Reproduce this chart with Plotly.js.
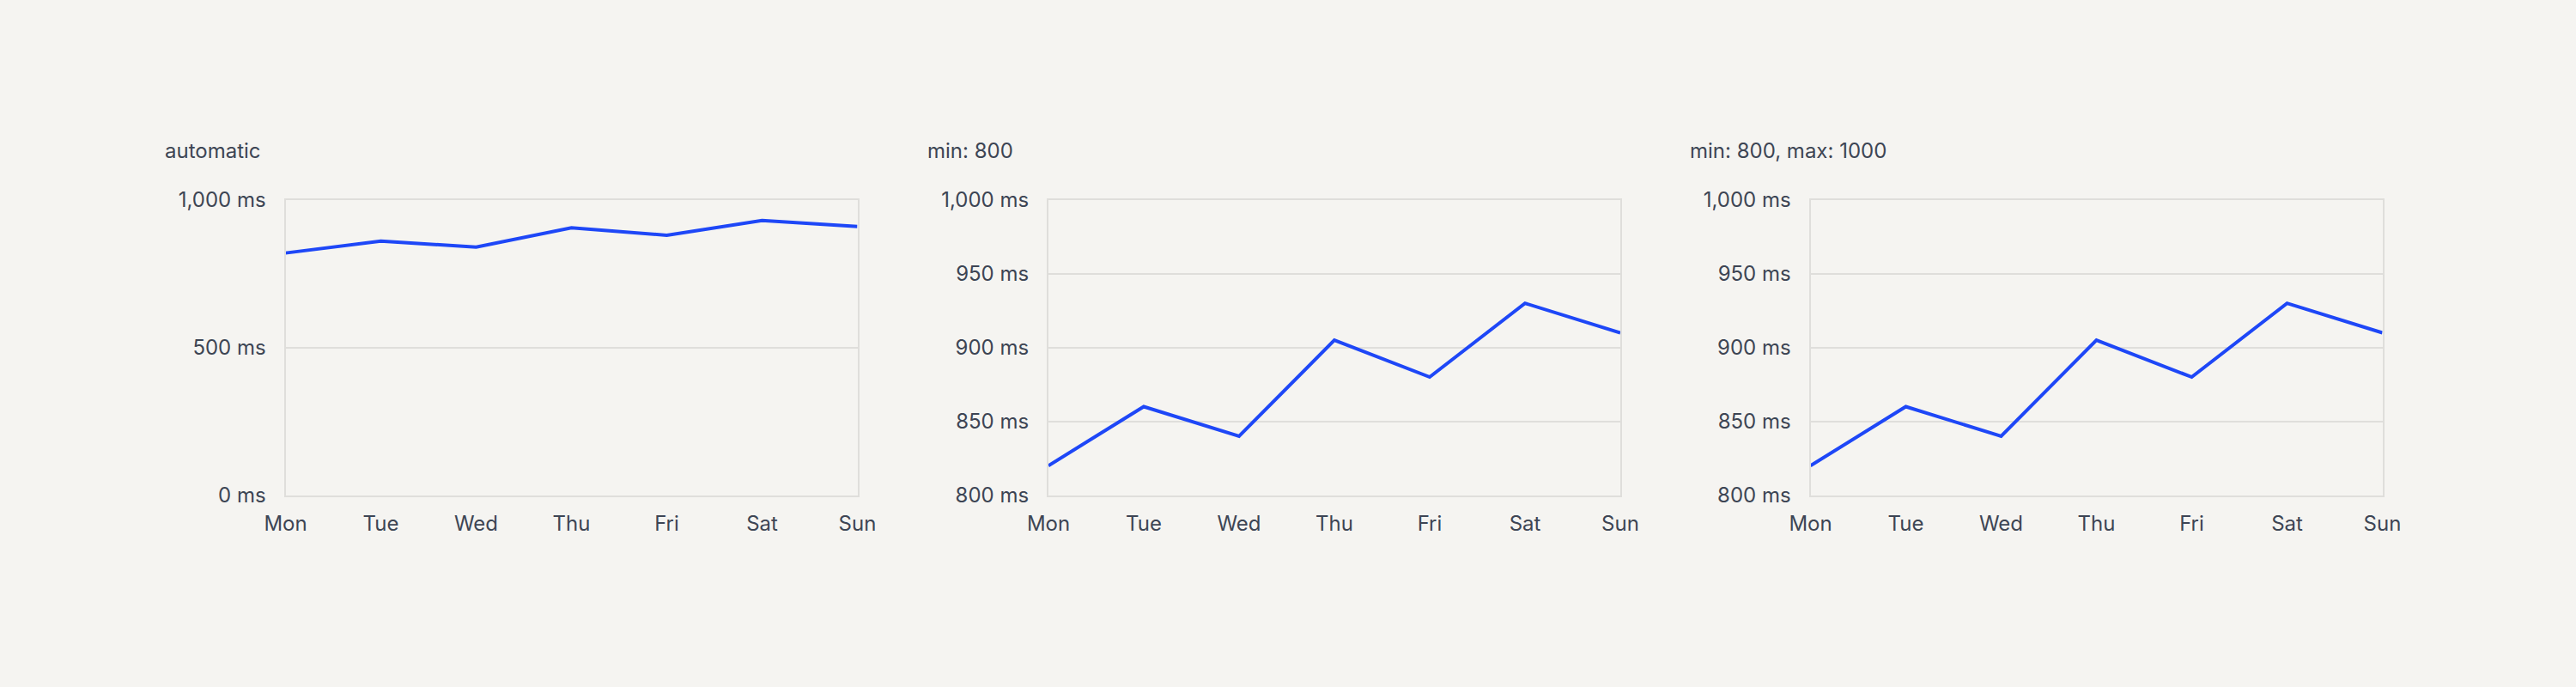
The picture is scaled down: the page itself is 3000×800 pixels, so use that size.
<!DOCTYPE html>
<html>
<head>
<meta charset="utf-8">
<script src="https://cdn.plot.ly/plotly-3.0.1.min.js"></script>
<style>
  html, body { margin: 0; padding: 0; background: #f5f4f1; }
  #chart { width: 3000px; height: 800px; }
</style>
</head>
<body>
<div id="chart"></div>
<script>
const days = ["Mon", "Tue", "Wed", "Thu", "Fri", "Sat", "Sun"];
const latencyMs = [820, 860, 840, 905, 880, 930, 910];
const panelTitles = ["automatic", "min: 800", "min: 800, max: 1000"];
const yRanges = [[0, 1000], [800, 1000], [800, 1000]];
const yTickSteps = [500, 50, 50];

const W = 3000, H = 800;
const plotLefts = [332.5, 1221, 2108.5];
const plotWidth = 666;
const plotTop = 232.7, plotBottom = 576.7;
const titleOffset = 143;

const textColor = "#3d4554";
const gridColor = "#dfdedb";
const lineColor = "#1e47f7";
const font = { family: "Inter, 'Noto Sans', sans-serif", size: 24, color: textColor };

const data = [];
const layout = {
  width: W, height: H,
  paper_bgcolor: "#f5f4f1",
  plot_bgcolor: "#f5f4f1",
  margin: { l: 0, r: 0, t: 0, b: 0, pad: 0 },
  showlegend: false,
  font: font,
  annotations: []
};

for (let i = 0; i < 3; i++) {
  const n = i === 0 ? "" : String(i + 1);
  data.push({
    type: "scatter", mode: "lines",
    x: days, y: latencyMs,
    xaxis: "x" + n, yaxis: "y" + n,
    line: { color: lineColor, width: 4 },
    hoverinfo: "skip"
  });
  const x0 = plotLefts[i] / W, x1 = (plotLefts[i] + plotWidth) / W;
  layout["xaxis" + n] = {
    domain: [x0, x1],
    anchor: "y" + n,
    type: "category",
    range: [0, days.length - 1],
    showgrid: false,
    zeroline: false,
    showline: true, mirror: true, linecolor: gridColor, linewidth: 2,
    ticks: "",
    ticklabelstandoff: 10,
    tickfont: font,
    fixedrange: true
  };
  layout["yaxis" + n] = {
    domain: [1 - plotBottom / H, 1 - plotTop / H],
    anchor: "x" + n,
    range: yRanges[i],
    dtick: yTickSteps[i],
    tick0: 0,
    tickformat: ",d",
    ticksuffix: " ms",
    showgrid: true, gridcolor: gridColor, gridwidth: 2,
    zeroline: false,
    showline: true, mirror: true, linecolor: gridColor, linewidth: 2,
    ticks: "",
    ticklabelstandoff: 16,
    tickfont: font,
    fixedrange: true
  };
  layout.annotations.push({
    xref: "paper", yref: "paper",
    x: (plotLefts[i] - titleOffset) / W, y: 1 - 175 / H,
    xanchor: "left", yanchor: "middle",
    text: panelTitles[i],
    showarrow: false,
    font: font
  });
}

Plotly.newPlot("chart", data, layout, { displayModeBar: false, staticPlot: true });
</script>
</body>
</html>
